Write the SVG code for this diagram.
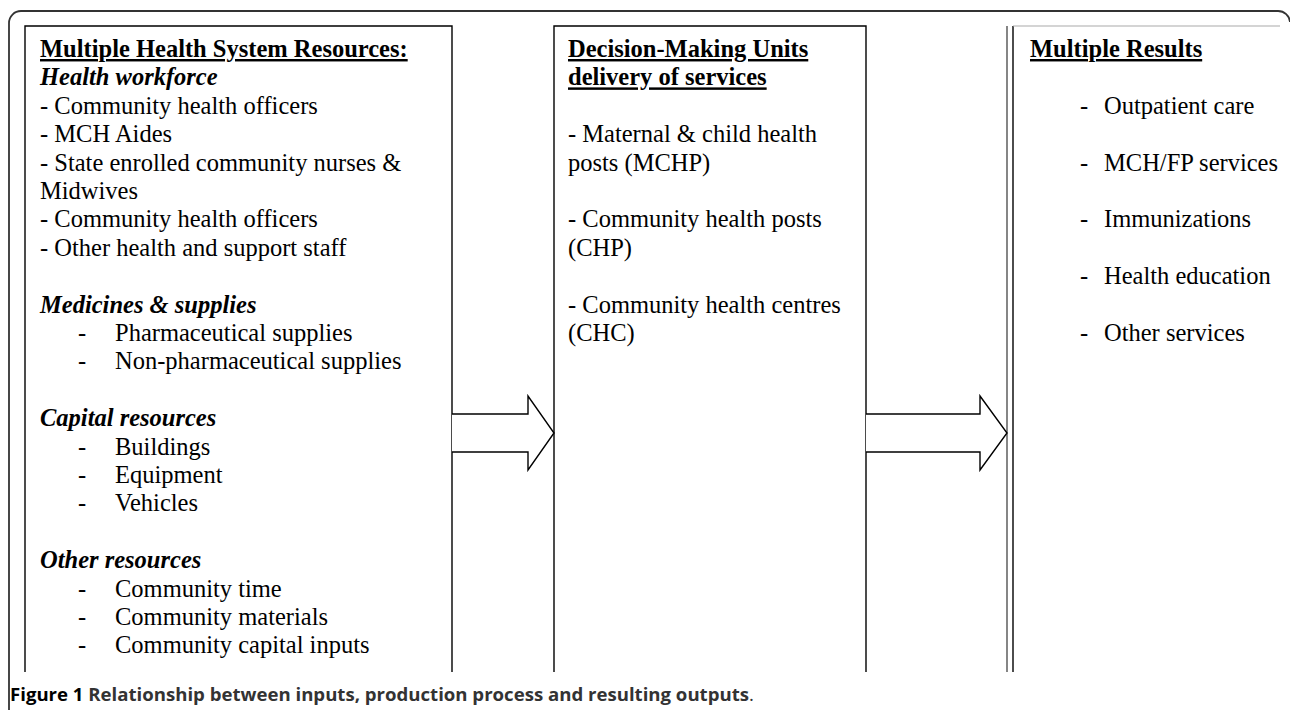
<svg xmlns="http://www.w3.org/2000/svg" width="1290" height="710" viewBox="0 0 1290 710">
<style>
.t{font-family:"Liberation Serif","Times New Roman",serif;font-size:24.5px;fill:#000}
.h{font-weight:bold;text-decoration:underline}
.s{font-weight:bold;font-style:italic}
.box{fill:none;stroke:#000;stroke-width:1.4}
.arrow{fill:#fff;stroke:#000;stroke-width:1.4;stroke-linejoin:miter}
.cap{font-family:"Open Sans","DejaVu Sans",sans-serif;font-size:18.6px;font-weight:bold}
</style>
<rect width="1290" height="710" fill="#fff"/>
<path d="M9,710 V23 A12,12 0 0 1 21,11 H1278 A12,12 0 0 1 1290,22" fill="none" stroke="#333" stroke-width="1.8"/>
<g id="inputs">
<path class="box" d="M25,672 V26 H452 V672"/>
<text class="t h" x="40" y="57">Multiple Health System Resources:</text>
<text class="t s" x="40" y="85.4">Health workforce</text>
<text class="t" x="40" y="113.8">- Community health officers</text>
<text class="t" x="40" y="142.2">- MCH Aides</text>
<text class="t" x="40" y="170.6">- State enrolled community nurses &amp;</text>
<text class="t" x="40" y="199">Midwives</text>
<text class="t" x="40" y="227.4">- Community health officers</text>
<text class="t" x="40" y="255.8">- Other health and support staff</text>
<text class="t s" x="40" y="312.6">Medicines &amp; supplies</text>
<text class="t" x="78" y="341">-</text><text class="t" x="115" y="341">Pharmaceutical supplies</text>
<text class="t" x="78" y="369.4">-</text><text class="t" x="115" y="369.4">Non-pharmaceutical supplies</text>
<text class="t s" x="40" y="426.2">Capital resources</text>
<text class="t" x="78" y="454.6">-</text><text class="t" x="115" y="454.6">Buildings</text>
<text class="t" x="78" y="483">-</text><text class="t" x="115" y="483">Equipment</text>
<text class="t" x="78" y="511.4">-</text><text class="t" x="115" y="511.4">Vehicles</text>
<text class="t s" x="40" y="568.2">Other resources</text>
<text class="t" x="78" y="596.6">-</text><text class="t" x="115" y="596.6">Community time</text>
<text class="t" x="78" y="625">-</text><text class="t" x="115" y="625">Community materials</text>
<text class="t" x="78" y="653.4">-</text><text class="t" x="115" y="653.4">Community capital inputs</text>
</g>
<g id="dmu">
<path class="box" d="M554,672 V26 H866 V672"/>
<text class="t h" x="568" y="57">Decision-Making Units</text>
<text class="t h" x="568" y="85.4">delivery of services</text>
<text class="t" x="568" y="142.2">- Maternal &amp; child health</text>
<text class="t" x="568" y="170.6">posts (MCHP)</text>
<text class="t" x="568" y="227.4">- Community health posts</text>
<text class="t" x="568" y="255.8">(CHP)</text>
<text class="t" x="568" y="312.6">- Community health centres</text>
<text class="t" x="568" y="341">(CHC)</text>
</g>
<g id="results">
<line x1="1007" y1="26" x2="1007" y2="672" stroke="#444" stroke-width="1.3"/>
<line x1="1013" y1="26" x2="1013" y2="672" stroke="#000" stroke-width="1.4"/>
<line x1="1013" y1="26" x2="1280" y2="26" stroke="#aaa" stroke-width="1.2"/>
<text class="t h" x="1030" y="57">Multiple Results</text>
<text class="t" x="1080" y="113.8">-</text><text class="t" x="1104" y="113.8">Outpatient care</text>
<text class="t" x="1080" y="170.6">-</text><text class="t" x="1104" y="170.6">MCH/FP services</text>
<text class="t" x="1080" y="227.4">-</text><text class="t" x="1104" y="227.4">Immunizations</text>
<text class="t" x="1080" y="284.2">-</text><text class="t" x="1104" y="284.2">Health education</text>
<text class="t" x="1080" y="341">-</text><text class="t" x="1104" y="341">Other services</text>
</g>
<g id="connectors">
<path class="arrow" d="M452,414 H528 V396 L554,433 L528,470 V452 H452"/>
<path class="arrow" d="M866,414 H980 V396 L1007,433 L980,470 V452 H866"/>
</g>
<text class="cap" x="10" y="701"><tspan fill="#000">Figure 1</tspan><tspan fill="#333"> Relationship between inputs, production process and resulting outputs</tspan><tspan fill="#333" font-weight="normal">.</tspan></text>
</svg>
